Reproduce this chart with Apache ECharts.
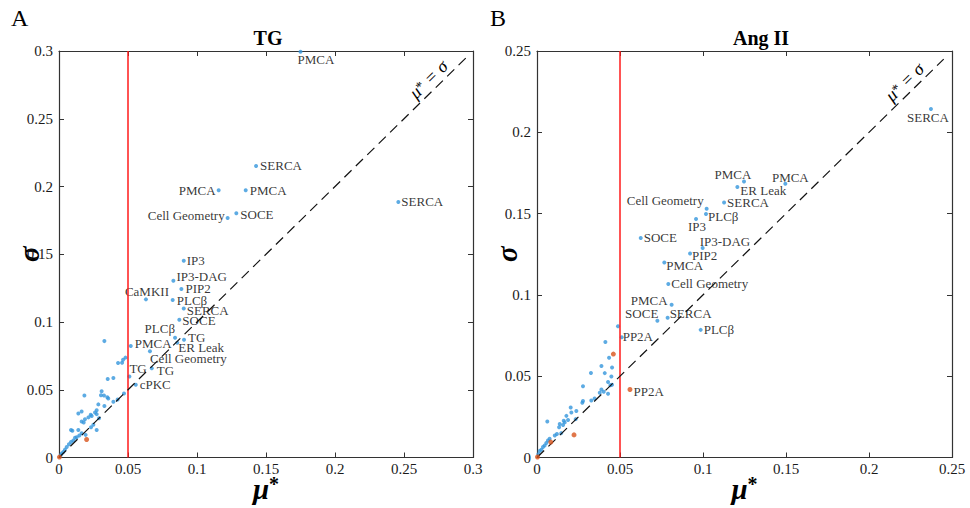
<!DOCTYPE html>
<html>
<head>
<meta charset="utf-8">
<script src="https://cdn.jsdelivr.net/npm/echarts@6/dist/echarts.min.js"></script>
<style>
html,body{margin:0;padding:0;background:#fff;}
#chart{width:970px;height:508px;}
</style>
</head>
<body>
<div id="chart"></div>
<script>
// ---------- TG panel: labelled parameters ----------
const tgNames = ['PMCA','SERCA','PMCA','PMCA','Cell Geometry','SOCE','SERCA','IP3','IP3-DAG','PIP2',
  'CaMKII','PLCβ','SERCA','SOCE','PLCβ','TG','ER Leak','PMCA','Cell Geometry','TG','TG','cPKC'];
const tgMu = [0.175,0.1428,0.1157,0.1353,0.1222,0.1285,0.2459,0.0904,0.0829,0.0887,
  0.0630,0.0824,0.0904,0.0872,0.0841,0.0906,0.0857,0.0520,0.0659,0.0510,0.0672,0.0556];
const tgSigma = [0.2994,0.2152,0.1973,0.1973,0.1767,0.1803,0.1886,0.1452,0.1305,0.1244,
  0.1167,0.1162,0.1099,0.1017,0.0884,0.0869,0.0847,0.0823,0.0784,0.0598,0.0658,0.0537];

// ---------- TG panel: remaining parameters ----------
const tgOtherMu = [0.0329,0.0428,0.0457,0.0464,0.0482,0.0394,0.0353,0.0309,0.0184,0.0304,0.0326,
  0.0350,0.0357,0.0471,0.0425,0.0394,0.0285,0.0329,0.0273,0.0164,0.0140,0.0230,0.0237,0.0261,0.0273,
  0.0213,0.0188,0.0164,0.0179,0.0290,0.0249,0.0273,0.0232,0.0087,0.0097,0.0140,0.0164,0.0147,0.0128,
  0.0116,0.0193,0.0104,0.0087,0.0072,0.0056,0.0043,0.0031,0.0020,0.0012];
const tgOtherSigma = [0.0859,0.0697,0.0699,0.0722,0.0737,0.0586,0.0579,0.0489,0.0458,0.0460,0.0458,
  0.0445,0.0436,0.0472,0.0428,0.0412,0.0392,0.0380,0.0349,0.0339,0.0325,0.0315,0.0307,0.0332,0.0320,
  0.0296,0.0283,0.0266,0.0259,0.0290,0.0242,0.0203,0.0223,0.0203,0.0198,0.0203,0.0179,0.0162,0.0150,
  0.0145,0.0167,0.0126,0.0114,0.0097,0.0078,0.0058,0.0041,0.0029,0.0017];
const tgRedMu = [0.0200,0.0003];
const tgRedSigma = [0.0133,0.0003];

// ---------- Ang II panel: labelled parameters ----------
const angNames = ['SERCA','PMCA','PMCA','ER Leak','SERCA','Cell Geometry','PLCβ','IP3','SOCE','IP3-DAG',
  'PIP2','PMCA','Cell Geometry','PMCA','SOCE','SERCA','PLCβ','PP2A'];
const angMu = [0.2373,0.1247,0.1496,0.1207,0.1127,0.1022,0.1018,0.0958,0.0625,0.0998,
  0.0922,0.0767,0.0791,0.0811,0.0725,0.0787,0.0986,0.0510];
const angSigma = [0.2143,0.1697,0.1683,0.1663,0.1568,0.1530,0.1497,0.1467,0.1350,0.1289,
  0.1255,0.1199,0.1067,0.0940,0.0841,0.0860,0.0785,0.0740];
const angRedNames = ['PP2A'];
const angRedLabelMu = [0.0560];
const angRedLabelSigma = [0.0418];

// ---------- Ang II panel: remaining parameters ----------
const angOtherMu = [0.0488,0.0412,0.0434,0.0388,0.0452,0.0325,0.0408,0.0448,0.0428,0.0452,0.0442,
  0.0277,0.0388,0.0402,0.0378,0.0428,0.0327,0.0347,0.0277,0.0273,0.0203,0.0207,0.0237,0.0233,0.0177,
  0.0187,0.0161,0.0167,0.0157,0.0137,0.0133,0.0062,0.0146,0.0120,0.0107,0.0076,0.0066,0.0056,0.0046,
  0.0036,0.0026,0.0016,0.0008];
const angOtherSigma = [0.0807,0.0710,0.0614,0.0563,0.0553,0.0520,0.0519,0.0498,0.0464,0.0448,0.0444,
  0.0438,0.0418,0.0404,0.0398,0.0392,0.0351,0.0363,0.0347,0.0337,0.0307,0.0277,0.0286,0.0236,0.0256,
  0.0230,0.0226,0.0216,0.0200,0.0206,0.0186,0.0222,0.0150,0.0145,0.0135,0.0115,0.0105,0.0089,0.0074,
  0.0065,0.0048,0.0040,0.0020];
const angRedMu = [0.0460,0.0223,0.0083,0.0003];
const angRedSigma = [0.0636,0.0139,0.0095,0.0003];

// ---------- axis ticks and reference lines ----------
const tgTicks = [0, 0.05, 0.1, 0.15, 0.2, 0.25, 0.3];
const angTicks = [0, 0.05, 0.1, 0.15, 0.2, 0.25];
const threshold = 0.05;
const tgDiagEnd = 0.295;
const angDiagEnd = 0.245;

// label placement for each named point: [side, dx, dy]
const tgPlace = [['right',-7,8],['right',0,0],['left',1,0],['right',0,0],['left',1,-3],['right',0,1],
  ['right',-1,0],['right',-1,0],['right',-1,-4],['right',0,0],['top',1,3],['right',0,0],['right',-1,2],
  ['right',-1,1],['left',4,-9],['right',0,-2],['right',-3,5],['right',0,-2],['right',-4,7],['right',-4,-8],
  ['right',1,2],['right',0,0]];
const angPlace = [['bottom',-3,-2],['top',-11,3],['top',5,4],['right',-1,3],['right',-1,0],['left',1,-8],
  ['right',-2,2],['bottom',1,-3],['right',-1,0],['right',-7,-6],['right',-2,2],['right',-2,3],['right',-1,-1],
  ['left',0,-4],['left',5,-7],['right',-2,-4],['right',-1,0],['right',-3,-1]];
const angRedPlace = [['right',-1,2]];

const BLUE = '#3596dc';
const ORANGE = '#d8541c';
const SERIF = "Liberation Serif";
const INK = '#000';

const zip = (a, b) => a.map((v, i) => [v, b[i]]);
function named(names, mu, sigma, place) {
  return names.map((n, i) => ({
    name: n,
    value: [mu[i], sigma[i]],
    label: { position: place[i][0], offset: [place[i][1], place[i][2]] }
  }));
}

function baseAxis(ticks, isX, showLabel, pos, gridIndex) {
  return {
    type: 'value', gridIndex, position: pos,
    min: ticks[0], max: ticks[ticks.length - 1], interval: ticks[1] - ticks[0],
    splitLine: { show: false },
    axisLine: { show: true, onZero: false, lineStyle: { color: '#333', width: 1.2 } },
    axisTick: { show: true, inside: true, length: 5, lineStyle: { color: '#333', width: 1 } },
    axisLabel: { show: showLabel, fontFamily: SERIF, fontSize: 15, color: '#1a1a1a', margin: isX ? 4 : 6 }
  };
}

const muName = {
  name: '{m|μ}{s|*}', nameLocation: 'middle', nameGap: 16, nameMoveOverlap: false,
  nameTextStyle: { rich: {
    m: { fontFamily: SERIF, fontSize: 29, fontWeight: 'bold', fontStyle: 'italic', color: INK },
    s: { fontFamily: SERIF, fontSize: 20, fontWeight: 'bold', color: INK, verticalAlign: 'top', padding: [0,0,10,0] }
  } }
};
const sigmaName = {
  name: 'σ', nameLocation: 'middle', nameGap: 16, nameRotate: 90, nameMoveOverlap: false,
  nameTextStyle: { fontFamily: SERIF, fontSize: 29, fontWeight: 'bold', fontStyle: 'italic', color: INK }
};

const xAxes = [
  Object.assign(baseAxis(tgTicks, true, true, 'bottom', 0), muName),
  baseAxis(tgTicks, true, false, 'top', 0),
  Object.assign(baseAxis(angTicks, true, true, 'bottom', 1), muName),
  baseAxis(angTicks, true, false, 'top', 1)
];
const yAxes = [
  Object.assign(baseAxis(tgTicks, false, true, 'left', 0), sigmaName),
  baseAxis(tgTicks, false, false, 'right', 0),
  Object.assign(baseAxis(angTicks, false, true, 'left', 1), sigmaName),
  baseAxis(angTicks, false, false, 'right', 1)
];

const pointLabel = {
  show: true, formatter: '{b}', distance: 2,
  fontFamily: SERIF, fontSize: 13, color: INK
};

function guideLines(end, pad) {
  return {
    silent: true, symbol: 'none', animation: false,
    data: [
      { xAxis: threshold, lineStyle: { color: '#ff1a1a', width: 1.5, type: 'solid' }, label: { show: false } },
      [
        { coord: [0, 0], lineStyle: { color: '#111', width: 1.2, type: [10, 6] },
          label: { show: true, position: 'insideEndTop', distance: 3, padding: [0, pad, 0, 0],
            formatter: '{m|μ}{s|*}{m| = σ}',
            rich: {
              m: { fontFamily: SERIF, fontSize: 18, fontStyle: 'italic', color: INK, lineHeight: 16 },
              s: { fontFamily: SERIF, fontSize: 14, color: INK, verticalAlign: 'top', lineHeight: 12, padding: [0,0,4,0] }
            } } },
        { coord: [end, end] }
      ]
    ]
  };
}

const series = [
  { type: 'scatter', xAxisIndex: 0, yAxisIndex: 0, symbolSize: 4, itemStyle: { color: BLUE },
    data: zip(tgOtherMu, tgOtherSigma), markLine: guideLines(tgDiagEnd, 16), z: 3 },
  { type: 'scatter', xAxisIndex: 0, yAxisIndex: 0, symbolSize: 4, itemStyle: { color: BLUE },
    label: pointLabel, data: named(tgNames, tgMu, tgSigma, tgPlace), z: 4 },
  { type: 'scatter', xAxisIndex: 0, yAxisIndex: 0, symbolSize: 5, itemStyle: { color: ORANGE },
    data: zip(tgRedMu, tgRedSigma), z: 5 },

  { type: 'scatter', xAxisIndex: 2, yAxisIndex: 2, symbolSize: 4, itemStyle: { color: BLUE },
    data: zip(angOtherMu, angOtherSigma), markLine: guideLines(angDiagEnd, 18), z: 3 },
  { type: 'scatter', xAxisIndex: 2, yAxisIndex: 2, symbolSize: 4, itemStyle: { color: BLUE },
    label: pointLabel, data: named(angNames, angMu, angSigma, angPlace), z: 4 },
  { type: 'scatter', xAxisIndex: 2, yAxisIndex: 2, symbolSize: 5, itemStyle: { color: ORANGE },
    label: pointLabel, data: named(angRedNames, angRedLabelMu, angRedLabelSigma, angRedPlace), z: 5 },
  { type: 'scatter', xAxisIndex: 2, yAxisIndex: 2, symbolSize: 5, itemStyle: { color: ORANGE },
    data: zip(angRedMu, angRedSigma), z: 5 }
];

const chart = echarts.init(document.getElementById('chart'), null, { renderer: 'svg' });
chart.setOption({
  backgroundColor: '#fff',
  animation: false,
  grid: [
    { left: 59, top: 51, width: 414, height: 413 },
    { left: 537, top: 51, width: 415, height: 413 }
  ],
  xAxis: xAxes,
  yAxis: yAxes,
  series: series,
  graphic: [
    { type: 'text', left: 11, top: 6, style: { text: 'A', font: "24px 'Liberation Serif'", fill: INK } },
    { type: 'text', left: 490, top: 6, style: { text: 'B', font: "24px 'Liberation Serif'", fill: INK } },
    { type: 'text', x: 268, y: 38, style: { text: 'TG', font: "bold 20px 'Liberation Serif'", fill: INK, align: 'center', verticalAlign: 'middle' } },
    { type: 'text', x: 761, y: 38, style: { text: 'Ang II', font: "bold 20px 'Liberation Serif'", fill: INK, align: 'center', verticalAlign: 'middle' } }
  ]
});
</script>
</body>
</html>
